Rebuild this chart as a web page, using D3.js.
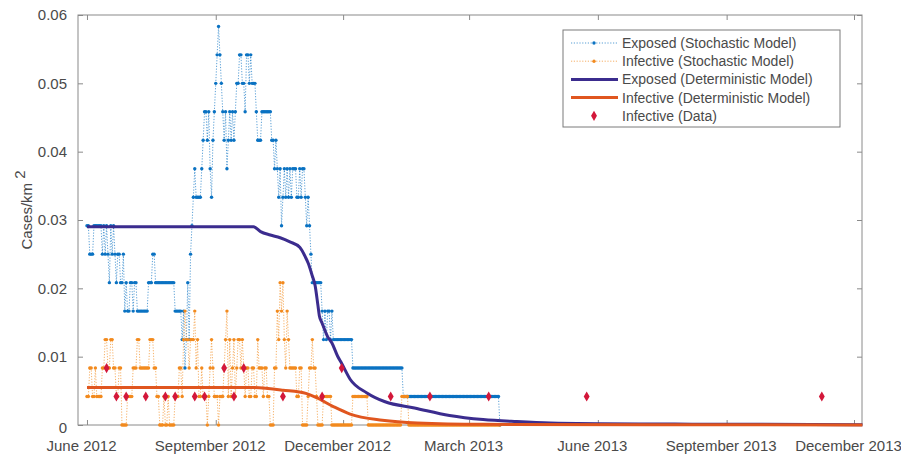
<!DOCTYPE html>
<html>
<head>
<meta charset="utf-8">
<script src="https://cdn.jsdelivr.net/npm/d3@7"></script>
<style>
  body { margin: 0; background: #fff; }
  svg text { font-family: "Liberation Sans", Arial, Helvetica, sans-serif; }
</style>
</head>
<body>
<svg id="chart" width="901" height="454"></svg>
<script>
// Layout
const W = 901, H = 454;
const PLOT = { left: 78, right: 862, top: 15, bottom: 425 };

// Day 0 of every series below
const DAY0 = new Date(2012, 5, 1);
const LAST_SIM_DAY = 295;
// one case in the study area, in cases/km^2
const CASE_UNIT = 1 / 240;

// Axis ticks
const xTickDates = [
    new Date(2012, 5, 1), new Date(2012, 8, 1), new Date(2012, 11, 1),
    new Date(2013, 2, 1), new Date(2013, 5, 1), new Date(2013, 8, 1), new Date(2013, 11, 1)
];
const xTickLabels = ["June 2012", "September 2012", "December 2012", "March 2013",
    "June 2013", "September 2013", "December 2013"];
const yTicks = [0, 0.01, 0.02, 0.03, 0.04, 0.05, 0.06];

// Stochastic model, exposed: [day, cases] -> value held until next entry
const exposedRuns = [
    [0,7],[2,6],[5,7],[11,6],[12,7],[13,6],[14,7],[15,6],[16,5],[17,7],[18,6],[19,7],[20,6],
    [21,5],[22,6],[24,5],[26,6],[27,4],[28,5],[29,4],[31,5],[33,4],[34,5],[36,4],[44,5],
    [47,6],[49,5],[63,4],[68,3],[69,4],[70,2],[71,3],[72,5],[73,3],[74,6],[75,7],[76,8],
    [77,9],[78,8],[82,9],[83,10],[84,11],[86,10],[87,11],[88,9],[89,8],[90,10],[91,11],
    [92,12],[93,13],[94,14],[95,13],[96,12],[97,11],[98,10],[99,11],[100,9],[101,10],
    [102,11],[103,10],[104,11],[105,10],[106,11],[107,12],[109,13],[111,12],[113,11],
    [114,13],[116,12],[117,13],[118,12],[121,11],[122,10],[125,11],[132,10],[134,9],
    [135,10],[136,9],[137,8],[138,9],[139,7],[140,8],[141,9],[142,8],[143,9],[144,8],
    [145,9],[146,8],[147,9],[150,8],[152,9],[153,8],[154,9],[156,8],[157,7],[158,8],
    [159,7],[160,6],[161,5],[168,4],[169,3],[170,4],[171,3],[172,4],[174,3],[175,4],
    [176,3],[190,2],[226,1],[295,0]
];

// Stochastic model, infective: [day, cases]
const infectiveRuns = [
    [0,1],[2,2],[4,1],[6,2],[7,1],[11,2],[13,3],[15,2],[17,3],[19,2],[21,1],[23,2],[25,0],
    [29,1],[33,2],[36,3],[38,2],[45,3],[48,2],[50,1],[52,0],[55,1],[56,0],[58,1],[59,0],
    [63,1],[66,2],[68,1],[69,3],[70,4],[71,3],[73,2],[74,3],[77,4],[78,2],[79,3],[80,1],
    [82,2],[83,1],[86,0],[87,1],[88,2],[89,3],[90,2],[91,1],[94,0],[95,1],[97,1],[98,2],
    [99,3],[100,4],[101,1],[102,3],[103,1],[104,2],[105,3],[106,1],[107,2],[108,3],
    [110,2],[111,3],[112,2],[113,1],[114,2],[116,1],[118,2],[120,1],[122,3],[123,2],
    [126,1],[127,2],[129,1],[131,0],[134,2],[136,4],[137,3],[138,5],[139,4],[140,5],
    [141,3],[142,2],[143,4],[144,3],[145,2],[150,1],[152,2],[154,0],[158,1],[159,2],
    [161,3],[162,2],[164,1],[165,0],[169,1],[175,0],[190,1],[201,0],[225,1],[230,0]
];

// Deterministic model: [day, cases/km^2]
const exposedDet = [
    [0,0.0290],[119,0.0290],[124,0.0283],[131,0.0278],[138,0.0274],[145,0.0268],
    [152,0.0260],[156,0.0246],[158,0.0237],[161,0.0218],[163,0.0204],[165,0.0175],
    [166,0.0160],[168,0.0149],[172,0.0129],[175,0.0120],[179,0.0101],[182,0.0090],
    [188,0.0067],[200,0.0047],[213,0.0034],[234,0.0025],[259,0.0014],[283,0.0008],
    [307,0.0005],[331,0.0003],[402,0.00015],[481,0.0001],[554,0.00005]
];
const infectiveDet = [
    [0,0.0055],[116,0.0055],[140,0.0051],[157,0.0046],[164,0.0040],[176,0.0027],
    [188,0.0016],[211,0.0007],[236,0.0003],[283,0.0001],[400,0.00003],[554,0.00001]
];

// Weekly surveillance data: [day, cases]
const infectiveData = [
    [14,2],[21,1],[28,1],[42,1],[56,1],[63,1],[77,1],[84,1],[98,2],[105,1],[112,2],
    [140,1],[168,1],[182,2],[217,1],[245,1],[287,1],[357,1],[525,1]
];

const COLORS = {
    stochE: "#0a72c2",
    stochI: "#f28a1e",
    detE: "#3b2c8e",
    detI: "#e0561f",
    data: "#d3173a",
    axis: "#8a8a8a",
    text: "#4a4a4a"
};

const svg = d3.select("#chart");
svg.append("rect").attr("width", W).attr("height", H).attr("fill", "#fff");

const x = d3.scaleTime()
    .domain([new Date(2012, 4, 25, 14), new Date(2013, 11, 6, 17)])
    .range([PLOT.left, PLOT.right]);
const y = d3.scaleLinear()
    .domain([0, 0.06])
    .range([PLOT.bottom, PLOT.top]);

const dayDate = d => d3.timeDay.offset(DAY0, d);

// Expand the run lists into one point a day
function expandRuns(runs) {
    const pts = [];
    let k = 0;
    for (let d = 0; d <= LAST_SIM_DAY; d++) {
        while (k + 1 < runs.length && runs[k + 1][0] <= d) k++;
        pts.push({ date: dayDate(d), value: runs[k][1] * CASE_UNIT });
    }
    return pts;
}

const exposedStoch = expandRuns(exposedRuns);
const infectiveStoch = expandRuns(infectiveRuns);

// Axes (ticks inside the box, on all four sides)
const gx = svg.append("g")
    .attr("transform", `translate(0,${PLOT.bottom})`)
    .call(d3.axisBottom(x).tickValues(xTickDates).tickSizeInner(-5).tickSizeOuter(0)
        .tickPadding(12).tickFormat((d, i) => xTickLabels[i]));
gx.selectAll("text").attr("dx", -6).attr("dy", "0.9em");

svg.append("g")
    .attr("transform", `translate(0,${PLOT.top})`)
    .call(d3.axisTop(x).tickValues(xTickDates).tickSizeInner(-5).tickSizeOuter(0).tickFormat(""));

const gy = svg.append("g")
    .attr("transform", `translate(${PLOT.left},0)`)
    .call(d3.axisLeft(y).tickValues(yTicks).tickSizeInner(-5).tickSizeOuter(0)
        .tickPadding(11).tickFormat(d => d === 0 ? "0" : d3.format(".2f")(d)));
gy.selectAll("text").filter(d => d === 0).attr("dy", "0.5em");

svg.append("g")
    .attr("transform", `translate(${PLOT.right},0)`)
    .call(d3.axisRight(y).tickValues(yTicks).tickSizeInner(-5).tickSizeOuter(0).tickFormat(""));

svg.selectAll(".domain").remove();
svg.selectAll(".tick line").attr("stroke", COLORS.axis);
svg.selectAll(".tick text").attr("fill", COLORS.text).style("font-size", "15px");

svg.append("rect")
    .attr("x", PLOT.left).attr("y", PLOT.top)
    .attr("width", PLOT.right - PLOT.left).attr("height", PLOT.bottom - PLOT.top)
    .attr("fill", "none").attr("stroke", COLORS.axis).attr("stroke-width", 1);

// Y label
const yLabel = svg.append("text")
    .attr("transform", `translate(32,210) rotate(-90)`)
    .attr("text-anchor", "middle")
    .attr("fill", COLORS.text)
    .style("font-size", "15px");
yLabel.append("tspan").text("Cases/km");
yLabel.append("tspan").attr("dy", -7).text("\u00a02");

const plot = svg.append("g");

const line = d3.line().x(d => x(d.date)).y(d => y(d.value));

function drawStochastic(data, color) {
    plot.append("path")
        .datum(data)
        .attr("fill", "none")
        .attr("stroke", color)
        .attr("stroke-width", 0.9)
        .attr("stroke-dasharray", "1.2,1.6")
        .attr("opacity", 0.75)
        .attr("d", line);
    plot.append("g").selectAll("circle")
        .data(data)
        .join("circle")
        .attr("cx", d => x(d.date))
        .attr("cy", d => y(d.value))
        .attr("r", 1.7)
        .attr("fill", color);
}

drawStochastic(exposedStoch, COLORS.stochE);
drawStochastic(infectiveStoch, COLORS.stochI);

const detLine = d3.line()
    .x(d => x(dayDate(d[0])))
    .y(d => y(d[1]))
    .curve(d3.curveMonotoneX);

plot.append("path").datum(exposedDet)
    .attr("fill", "none").attr("stroke", COLORS.detE).attr("stroke-width", 3)
    .attr("d", detLine);
plot.append("path").datum(infectiveDet)
    .attr("fill", "none").attr("stroke", COLORS.detI).attr("stroke-width", 3)
    .attr("d", detLine);

const diamond = d3.symbol().type(d3.symbolDiamond).size(30);
plot.append("g").selectAll("path")
    .data(infectiveData)
    .join("path")
    .attr("transform", d => `translate(${x(dayDate(d[0]))},${y(d[1] * CASE_UNIT)})`)
    .attr("d", diamond)
    .attr("fill", COLORS.data);

// Legend
const legendItems = [
    { label: "Exposed (Stochastic Model)", color: COLORS.stochE, kind: "stoch" },
    { label: "Infective (Stochastic Model)", color: COLORS.stochI, kind: "stoch" },
    { label: "Exposed (Deterministic Model)", color: COLORS.detE, kind: "det" },
    { label: "Infective (Deterministic Model)", color: COLORS.detI, kind: "det" },
    { label: "Infective (Data)", color: COLORS.data, kind: "data" }
];

const legend = svg.append("g").attr("transform", "translate(563,30)");
legend.append("rect")
    .attr("width", 277).attr("height", 97)
    .attr("fill", "#fff").attr("stroke", "#7a7a7a").attr("stroke-width", 1);

const rows = legend.selectAll("g.row")
    .data(legendItems)
    .join("g")
    .attr("class", "row")
    .attr("transform", (d, i) => `translate(0,${13 + i * 18.2})`);

rows.each(function(d) {
    const g = d3.select(this);
    if (d.kind === "stoch") {
        g.append("line").attr("x1", 8).attr("x2", 55).attr("y1", 0).attr("y2", 0)
            .attr("stroke", d.color).attr("stroke-width", 0.9)
            .attr("stroke-dasharray", "1.2,1.6").attr("opacity", 0.75);
        g.append("circle").attr("cx", 31).attr("cy", 0).attr("r", 1.7).attr("fill", d.color);
    } else if (d.kind === "det") {
        g.append("line").attr("x1", 8).attr("x2", 55).attr("y1", 0).attr("y2", 0)
            .attr("stroke", d.color).attr("stroke-width", 3);
    } else {
        g.append("path").attr("transform", "translate(31,0)").attr("d", diamond).attr("fill", d.color);
    }
    g.append("text")
        .attr("x", 59).attr("y", 0).attr("dy", "0.35em")
        .attr("fill", COLORS.text)
        .style("font-size", "14px")
        .text(d.label);
});
</script>
</body>
</html>
